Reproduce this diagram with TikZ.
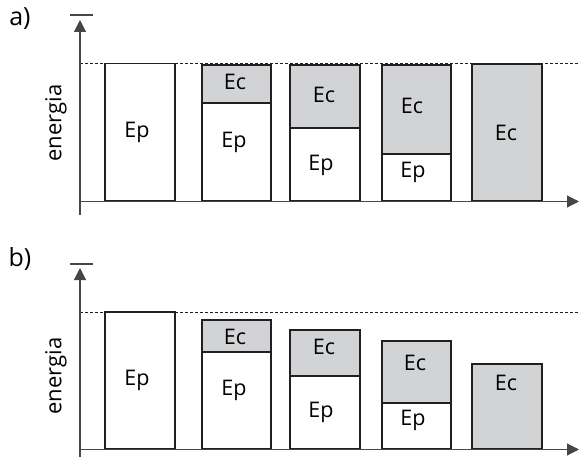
\documentclass[tikz,border=0pt]{standalone}
\usepackage{fontspec}
\setmainfont{Open Sans}
\usetikzlibrary{arrows.meta}
\definecolor{boxgray}{RGB}{210,211,213}
\definecolor{boxline}{RGB}{35,31,32}
\definecolor{axisline}{RGB}{70,70,70}
\begin{document}
\begin{tikzpicture}[x=1pt,y=-1pt,
  axis/.style={draw=axisline,line width=1.1pt},
  axarrow/.style={axis,-{Triangle[length=12pt,width=12pt]}},
  refline/.style={draw=boxline,line width=0.8pt,dash pattern=on 3pt off 2pt},
  ecbox/.style={draw=boxline,line width=1.9pt,fill=boxgray},
  epbox/.style={draw=boxline,line width=1.9pt,fill=white},
  lbl/.style={font=\fontsize{21.5}{24}\selectfont,inner sep=0pt},
  panel/.style={font=\fontsize{25}{28}\selectfont,inner sep=0pt},
  ylab/.style={font=\fontsize{22}{24}\selectfont,rotate=90,inner sep=0pt}]
\useasboundingbox (0,0) rectangle (579,460);
% ---------------- panel a ----------------
\node[panel] (pa) at (20,19) {a)};
\coordinate (ya0) at (80,215);
\coordinate (ya1) at (80,20);
\coordinate (xa0) at (80,201.5);
\coordinate (xa1) at (579,201.5);
\coordinate (da0) at (80,63.5);
\coordinate (da1) at (579,63.5);
\coordinate (ta0) at (70,15);
\coordinate (ta1) at (93,15);
\draw[refline] (da0) -- (da1);
\draw[axarrow] (ya0) -- (ya1);
\draw[axis] (ta0) -- (ta1);
\node[ylab] (ena) at (56,123) {energia};
% bar 1
\draw[epbox] (105,63.5) rectangle (175,201);
\node[lbl] (a1p) at (137,132) {Ep};
% bar 2
\draw[ecbox] (202,65) rectangle (271,103);
\draw[epbox] (202,103) rectangle (271,201);
\node[lbl] (a2c) at (235,82) {Ec};
\node[lbl] (a2p) at (234,142) {Ep};
% bar 3
\draw[ecbox] (290,65) rectangle (360,128);
\draw[epbox] (290,128) rectangle (360,200.5);
\node[lbl] (a3c) at (324,95) {Ec};
\node[lbl] (a3p) at (321,165) {Ep};
% bar 4
\draw[ecbox] (382,65) rectangle (451,154);
\draw[epbox] (382,154) rectangle (451,201);
\node[lbl] (a4c) at (412,106) {Ec};
\node[lbl] (a4p) at (413,172) {Ep};
% bar 5
\draw[ecbox] (472,64) rectangle (542,201);
\node[lbl] (a5c) at (506,133) {Ec};
\draw[axarrow] (xa0) -- (xa1);
% ---------------- panel b ----------------
\node[panel] (pb) at (20,259) {b)};
\coordinate (yb0) at (80,457);
\coordinate (yb1) at (80,268);
\coordinate (xb0) at (80,449.5);
\coordinate (xb1) at (579,449.5);
\coordinate (db0) at (80,312);
\coordinate (db1) at (579,312);
\coordinate (tb0) at (70,264);
\coordinate (tb1) at (93,264);
\draw[refline] (db0) -- (db1);
\draw[axarrow] (yb0) -- (yb1);
\draw[axis] (tb0) -- (tb1);
\node[ylab] (enb) at (56,376) {energia};
% bar 1
\draw[epbox] (105,312) rectangle (175,448.5);
\node[lbl] (b1p) at (137,380) {Ep};
% bar 2
\draw[ecbox] (202,320) rectangle (271,352);
\draw[epbox] (202,352) rectangle (271,448.5);
\node[lbl] (b2c) at (235,337) {Ec};
\node[lbl] (b2p) at (234,390) {Ep};
% bar 3
\draw[ecbox] (290,330) rectangle (360,376);
\draw[epbox] (290,376) rectangle (360,448.5);
\node[lbl] (b3c) at (324,347) {Ec};
\node[lbl] (b3p) at (321,412) {Ep};
% bar 4
\draw[ecbox] (382,341) rectangle (451,403);
\draw[epbox] (382,403) rectangle (451,448.5);
\node[lbl] (b4c) at (415,363) {Ec};
\node[lbl] (b4p) at (413,420) {Ep};
% bar 5
\draw[ecbox] (472,364) rectangle (542,448.5);
\node[lbl] (b5c) at (506,383) {Ec};
\draw[axarrow] (xb0) -- (xb1);
\end{tikzpicture}
\end{document}
